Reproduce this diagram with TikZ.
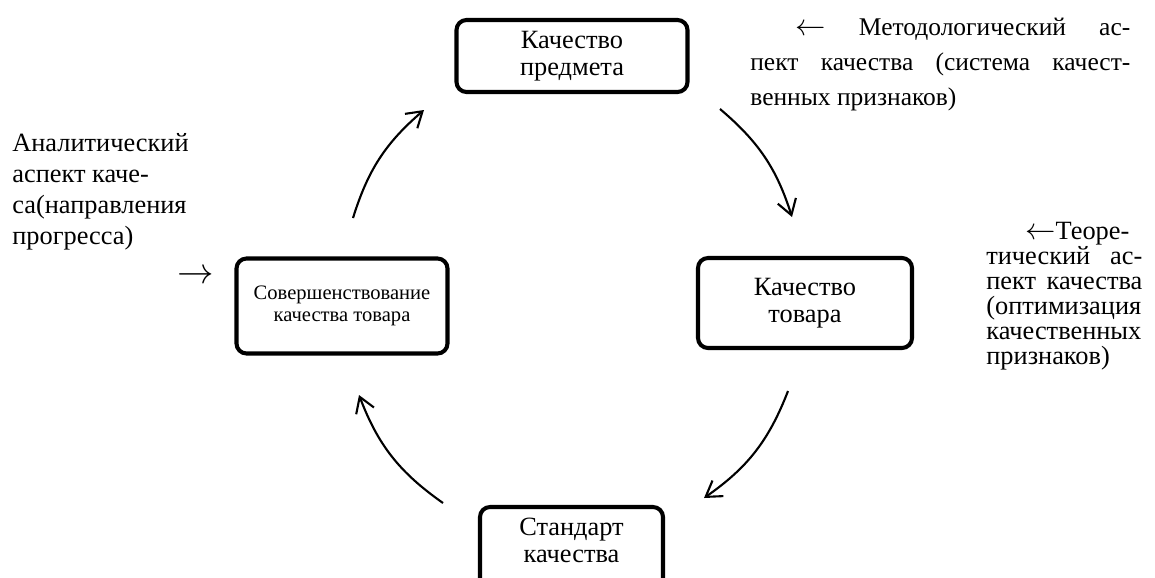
\documentclass[tikz,border=0pt]{standalone}
\usepackage{fontspec}
\setmainfont{Liberation Serif}
\usetikzlibrary{arrows.meta,positioning}

\newcommand{\aspL}{{\fontsize{18}{0}\selectfont$\leftarrow$}}
\newcommand{\aspR}{{\fontsize{20}{0}\selectfont$\rightarrow$}}

\tikzset{
  rectnode/.style={
  draw=black,
  line width=2.3pt,
  rounded corners=2mm,
  align=center,
  inner sep=0pt,
  font=\fontsize{15}{15.4}\selectfont,
  },
  cyc/.style={line width=1.2pt,-{Straight Barb[length=3mm,width=3.8mm,line width=1.2pt]}},
  note/.style={inner sep=0pt,anchor=north west,align=justify},
}

\begin{document}
\begin{tikzpicture}
  \useasboundingbox (0,0) rectangle (23.1,-11.54);
  \clip (0,0) rectangle (23.1,-11.54);

  % the four stages
  \node [rectnode,minimum width=4.62cm,minimum height=1.44cm] (pred) at (11.44,-1.12) {Качество\\предмета};
  \node [rectnode,minimum width=4.28cm,minimum height=1.8cm] (tov) at (16.1,-6.06) {Качество\\товара};
  \node [rectnode,minimum width=3.66cm,minimum height=1.62cm] (std) at (11.43,-10.95)
    {\raisebox{-1.5pt}[0pt][0pt]{\begin{tabular}{@{}c@{}}Стандарт\\качества\end{tabular}}};
  \node [rectnode,minimum width=4.22cm,minimum height=1.9cm,font=\fontsize{11.7}{12.5}\selectfont] (sov) at (6.84,-6.12) {Совершенствование\\качества товара};

  % arcs between the boxes
  \coordinate (a1) at (7.06,-4.36);  \coordinate (b1) at (8.48,-2.2);
  \coordinate (a2) at (14.4,-2.18);  \coordinate (b2) at (15.84,-4.34);
  \coordinate (a3) at (15.76,-7.82); \coordinate (b3) at (14.08,-9.96);
  \coordinate (a4) at (8.86,-10.06); \coordinate (b4) at (7.18,-7.9);
  \draw [cyc] (a1) to[bend left=16] (b1);
  \draw [cyc] (a2) to[bend left=16] (b2);
  \draw [cyc] (a3) to[bend left=17] (b3);
  \draw [cyc] (a4) to[bend left=17] (b4);

  % aspects
  \node [note,text width=7.6cm,font=\fontsize{14.5}{19.9}\selectfont] (meth) at (15,-0.36)
    {\hspace*{0.9cm}\aspL{} Методологический ас-\linebreak пект качества (система качест-\linebreak венных признаков)};
  \node [note,text width=3.12cm,font=\fontsize{15}{14.2}\selectfont] (theo) at (19.72,-4.44)
    {\hspace*{0.78cm}\aspL Теоре-\linebreak тический ас-\linebreak пект качества\linebreak (оптимизация\linebreak качественных\linebreak признаков)};
  \node [note,align=left,font=\fontsize{15}{17.6}\selectfont] (anal) at (0.24,-2.66)
    {Аналитический\\аспект каче-\\са(направления\\прогресса)};
  \node [inner sep=0pt] (arr) at (3.91,-5.54) {\aspR};

\end{tikzpicture}
\end{document}
